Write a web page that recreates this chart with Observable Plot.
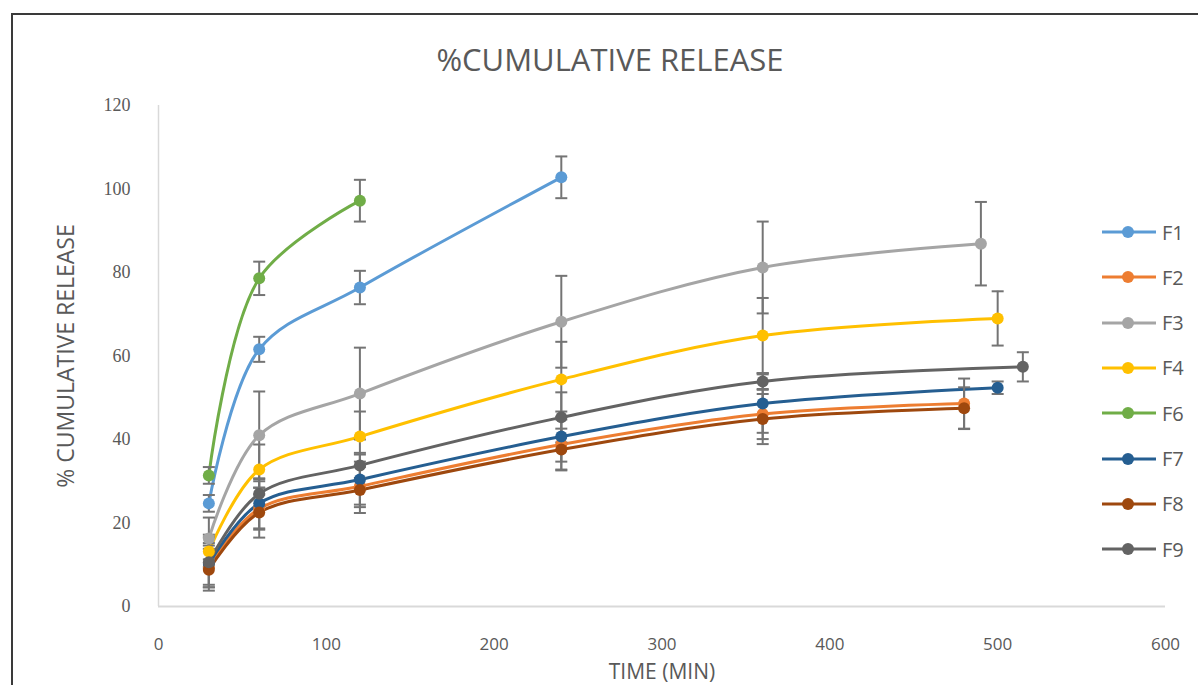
<!DOCTYPE html>
<html><head><meta charset="utf-8">
<script src="https://cdn.jsdelivr.net/npm/d3@7"></script>
<script src="https://cdn.jsdelivr.net/npm/@observablehq/plot@0.6"></script>
<style>
body{margin:0;background:#fff;}
#wrap{position:relative;width:1198px;height:685px;overflow:hidden;font-family:"Liberation Sans Narrow","Open Sans",sans-serif;color:#595959;}
#chart{position:absolute;left:0;top:0;}
#frame{position:absolute;left:11px;top:13px;width:1300px;height:800px;border-left:2px solid #3a3a3a;border-top:2px solid #3a3a3a;pointer-events:none;}
#title{position:absolute;top:38px;left:11px;width:1198px;text-align:center;font-size:31px;color:#595959;}
#xlabel{position:absolute;top:659px;left:0;width:1324px;text-align:center;font-size:21px;line-height:24px;color:#595959;}
#ylabel{position:absolute;left:65px;top:356px;transform:translate(-50%,-50%) rotate(-90deg);font-size:23px;white-space:nowrap;color:#595959;}
.leg{position:absolute;left:1102px;height:20px;display:flex;align-items:center;font-size:20px;color:#595959;}
.leg span{margin-left:6px;}
#chart g[aria-label="y-axis tick label"]{font-family:"Liberation Serif",serif;font-size:18px;}
#chart g[aria-label="x-axis tick label"]{font-family:"Open Sans",sans-serif;font-size:17px;}
</style>
</head><body>
<div id="wrap">
<div id="chart"></div>
<div id="frame"></div>
<div id="title">%CUMULATIVE RELEASE</div>
<div id="xlabel">TIME (MIN)</div>
<div id="ylabel">% CUMULATIVE RELEASE</div>
<div id="legend"></div>
</div>
<script>
const seriesNames = ["F1","F2","F3","F4","F6","F7","F8","F9"];
const seriesColors = ["#5B9BD5","#ED7D31","#A5A5A5","#FFC000","#70AD47","#255E91","#9E480E","#636363"];

const f1Time = [30, 60, 120, 240];
const f1Mean = [24.7, 61.6, 76.4, 102.8];
const f1Sd   = [2, 3, 4, 5];

const f2Time = [30, 60, 120, 240, 360, 480];
const f2Mean = [9.6, 23.4, 28.8, 38.8, 46.1, 48.6];
const f2Sd   = [5, 5, 5, 6, 6, 6];

const f3Time = [30, 60, 120, 240, 360, 490];
const f3Mean = [16.3, 41.0, 51.0, 68.2, 81.2, 86.9];
const f3Sd   = [5, 10.5, 11, 11, 11, 10];

const f4Time = [30, 60, 120, 240, 360, 500];
const f4Mean = [13.2, 32.8, 40.7, 54.4, 64.9, 69.0];
const f4Sd   = [4, 6, 6, 9, 9, 6.5];

const f6Time = [30, 60, 120];
const f6Mean = [31.4, 78.6, 97.2];
const f6Sd   = [2, 4, 5];

const f7Time = [30, 60, 120, 240, 360, 500];
const f7Mean = [10.2, 24.7, 30.4, 40.7, 48.6, 52.4];
const f7Sd   = [5, 6, 6, 6, 7, 1.5];

const f8Time = [30, 60, 120, 240, 360, 480];
const f8Mean = [8.8, 22.5, 27.9, 37.6, 44.9, 47.5];
const f8Sd   = [5, 6, 5.5, 5, 6, 5];

const f9Time = [30, 60, 120, 240, 360, 515];
const f9Mean = [10.6, 27.0, 33.8, 45.3, 53.9, 57.4];
const f9Sd   = [6, 3, 3, 6, 2, 3.5];

const xTicks = [0, 100, 200, 300, 400, 500, 600];
const yTicks = [0, 20, 40, 60, 80, 100, 120];

const raw = {
  F1: [f1Time, f1Mean, f1Sd], F2: [f2Time, f2Mean, f2Sd], F3: [f3Time, f3Mean, f3Sd],
  F4: [f4Time, f4Mean, f4Sd], F6: [f6Time, f6Mean, f6Sd], F7: [f7Time, f7Mean, f7Sd],
  F8: [f8Time, f8Mean, f8Sd], F9: [f9Time, f9Mean, f9Sd]
};
const data = [];
for (const s of seriesNames) {
  const [t, m, e] = raw[s];
  t.forEach((v, i) => data.push({series: s, time: v, mean: m[i], sd: e[i]}));
}

const capSymbol = {draw(ctx) { ctx.moveTo(-6, 0); ctx.lineTo(6, 0); }};
const errColor = "#747474";

const chart = Plot.plot({
  width: 1198, height: 685,
  marginLeft: 158, marginRight: 33, marginTop: 105, marginBottom: 79,
  style: {background: "transparent", fontFamily: "'Open Sans',sans-serif"},
  x: {domain: [0, 600], label: null},
  y: {domain: [0, 120], label: null},
  color: {domain: seriesNames, range: seriesColors},
  marks: [
    Plot.ruleX([0], {y1: 0, y2: 120, stroke: "#d9d9d9", strokeWidth: 1.5}),
    Plot.ruleY([0], {stroke: "#d9d9d9", strokeWidth: 2}),
    Plot.axisX({ticks: xTicks, tickSize: 0, tickPadding: 31, fill: "#595959", tickFormat: d => String(d)}),
    Plot.axisY({ticks: yTicks, tickSize: 0, tickPadding: 28, fill: "#595959", tickFormat: d => String(d)}),
    Plot.line(data, {x: "time", y: "mean", z: "series", stroke: "series", strokeWidth: 3, curve: "catmull-rom"}),
    Plot.ruleX(data, {x: "time", y1: d => d.mean - d.sd, y2: d => d.mean + d.sd, stroke: errColor, strokeWidth: 2}),
    Plot.dot(data, {x: "time", y: d => d.mean - d.sd, symbol: capSymbol, r: 6, stroke: errColor, fill: "none", strokeWidth: 2}),
    Plot.dot(data, {x: "time", y: d => d.mean + d.sd, symbol: capSymbol, r: 6, stroke: errColor, fill: "none", strokeWidth: 2}),
    Plot.dot(data, {x: "time", y: "mean", fill: "series", r: 6})
  ]
});
document.getElementById("chart").appendChild(chart);

const legend = document.getElementById("legend");
seriesNames.forEach((s, i) => {
  const el = document.createElement("div");
  el.className = "leg";
  el.style.top = (222 + i * 45.3) + "px";
  el.innerHTML = `<svg width="54" height="16"><line x1="0" y1="8" x2="54" y2="8" stroke="${seriesColors[i]}" stroke-width="3"/><circle cx="26" cy="8" r="6" fill="${seriesColors[i]}"/></svg><span>${s}</span>`;
  legend.appendChild(el);
});
</script>
</body></html>
